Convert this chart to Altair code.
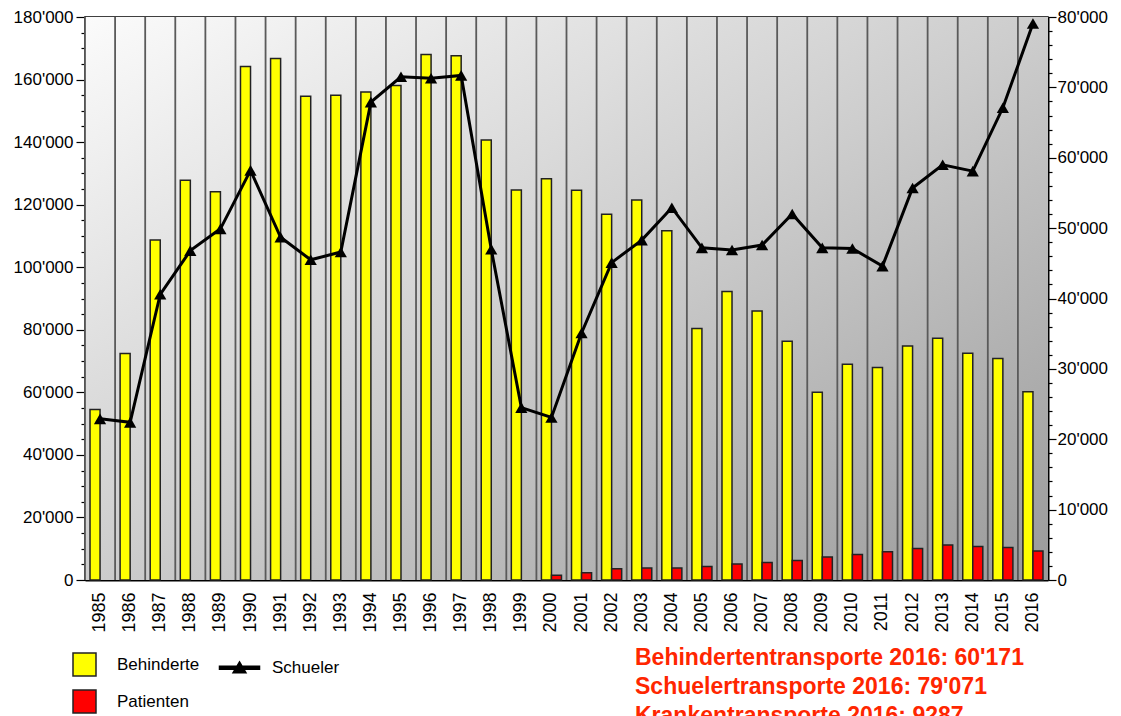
import altair as alt
import pandas as pd

FONT = "Liberation Sans"

years = [str(y) for y in range(1985, 2017)]
behinderte = [54500, 72400, 108700, 127800, 124100, 164200, 166700, 154700, 155000, 156000,
              158100, 168000, 167600, 140700, 124700, 128300, 124600, 116900, 121500, 111700,
              80400, 92200, 86000, 76300, 60000, 69000, 67900, 74800, 77300, 72500, 70800, 60171]
patienten = [0] * 15 + [1500, 2300, 3600, 3800, 3800, 4350, 5100, 5600, 6270, 7330, 8190,
                        9030, 10100, 11160, 10740, 10420, 9287]
schueler = [22900, 22400, 40600, 46800, 49900, 58200, 48700, 45500, 46600, 67900,
            71500, 71300, 71700, 47000, 24500, 23100, 35100, 45100, 48300, 52900,
            47200, 46900, 47600, 52000, 47200, 47100, 44600, 55700, 59000, 58100, 67100, 79071]
series_order = ["Behinderte", "Schueler", "Patienten"]
series_colors = ["#ffff00", "#000000", "#ff0000"]
series_strokes = ["#222222", "#000000", "#222222"]
legend_shapes = ["square",
                 "M-1.74,-0.13H1.74V0.13H-1.74Z M0,-0.5L0.56,0.45H-0.56Z",
                 "square"]
notes = ["Behindertentransporte 2016: 60'171",
         "Schuelertransporte 2016: 79'071",
         "Krankentransporte 2016: 9287"]

df = pd.DataFrame({"year": years, "Behinderte": behinderte,
                   "Patienten": patienten, "Schueler": schueler})
long = df.melt("year", var_name="series", value_name="value")

TOP = 9
W, H = 963, 563

xaxis = alt.Axis(title=None, labelAngle=270, labelFontSize=18, labelFont=FONT,
                 labelColor="black", ticks=False, domain=True, domainColor="black",
                 domainWidth=2, labelPadding=12, grid=False)
xscale = alt.Scale(paddingInner=0, paddingOuter=0)
xenc = alt.X("year:O", axis=xaxis, scale=xscale)

bg = alt.Chart(alt.Data(values=[{}])).mark_rect(
    fill=alt.LinearGradient(
        gradient="linear",
        stops=[alt.GradientStop(color="#fbfbfb", offset=0),
               alt.GradientStop(color="#cdcdcd", offset=0.5),
               alt.GradientStop(color="#9a9a9a", offset=1)],
        x1=0, y1=0, x2=1, y2=1)
).encode(x=alt.value(0), x2=alt.value(W), y=alt.value(0), y2=alt.value(H))

rules = alt.Chart(long).transform_filter(alt.datum.series == "Behinderte").mark_rule(
    color="#5a5a5a", strokeWidth=1.8
).encode(x=alt.X("year:O", axis=xaxis, bandPosition=0, scale=xscale))

left_labels = "datum.value % 20000 === 0 ? replace(format(datum.value, ','), ',', \"'\") : ''"
right_labels = "datum.value % 10000 === 0 ? replace(format(datum.value, ','), ',', \"'\") : ''"

yleft = alt.Axis(title=None, values=list(range(0, 180001, 5000)), labelExpr=left_labels,
                 tickSize={"condition": {"test": "datum.value % 20000 === 0", "value": 9}, "value": 4},
                 tickColor="black", tickWidth=1.2, labelPadding=3, labelFontSize=17,
                 labelFont=FONT, labelColor="black", domainColor="black", domainWidth=2,
                 grid=False, labelOverlap=False)
yright = alt.Axis(title=None, orient="right", values=list(range(0, 80001, 2000)),
                  labelExpr=right_labels,
                  tickSize={"condition": {"test": "datum.value % 10000 === 0", "value": 8}, "value": 4},
                  tickColor="black", tickWidth=1.2, labelPadding=1, labelFontSize=17,
                  labelFont=FONT, labelColor="black", domainColor="black", domainWidth=2,
                  grid=False, labelOverlap=False)

legend = alt.Legend(
    title=None, orient="none", legendX=-13, legendY=635, columns=2, direction="horizontal",
    symbolSize=529, labelFontSize=17, labelFont=FONT, labelColor="black",
    labelOffset=20, columnPadding=16, rowPadding=8, symbolOpacity=1,
    symbolStrokeWidth=1.5,
)
fill_scale = alt.Scale(domain=series_order, range=series_colors)
stroke_scale = alt.Scale(domain=series_order, range=series_strokes)
shape_scale = alt.Scale(domain=series_order, range=legend_shapes)

bars = alt.Chart(long).transform_filter(
    "datum.series !== 'Schueler' && datum.value > 0"
).mark_bar(strokeWidth=1.5, opacity=1).encode(
    x=xenc,
    xOffset=alt.XOffset("series:N", scale=alt.Scale(domain=["Behinderte", "Patienten"],
                                                     paddingInner=0, paddingOuter=0.5)),
    y=alt.Y("value:Q", axis=yleft, scale=alt.Scale(domain=[0, 180000], nice=False)),
    fill=alt.Fill("series:N", scale=fill_scale, legend=legend),
    stroke=alt.Stroke("series:N", scale=stroke_scale, legend=legend),
)

legend_src = alt.Chart(long).mark_point(filled=True, opacity=0, size=1).encode(
    x=xenc,
    fill=alt.Fill("series:N", scale=fill_scale, legend=legend),
    stroke=alt.Stroke("series:N", scale=stroke_scale, legend=legend),
    shape=alt.Shape("series:N", scale=shape_scale, legend=legend),
)

line = alt.Chart(long).transform_filter(alt.datum.series == "Schueler").mark_line(
    color="black", strokeWidth=3,
    point=alt.OverlayMarkDef(shape="triangle-up", size=150, filled=True, color="black", opacity=1)
).encode(
    x=xenc,
    y=alt.Y("value:Q", axis=yright, scale=alt.Scale(domain=[0, 80000], nice=False)),
)

chart = alt.layer(bg, rules, bars, legend_src, line).resolve_scale(y="independent").properties(
    width=W, height=H,
    autosize=alt.AutoSizeParams(type="none"),
    padding={"left": 77, "top": TOP, "right": 65, "bottom": 136},
    title=alt.TitleParams(text=notes, orient="bottom", anchor="start", dx=550, offset=19,
                          dy=-88, fontSize=23, font=FONT, fontWeight="bold", color="#ff2600",
                          lineHeight=29, frame="group"),
).configure_view(stroke="black", strokeWidth=1.5)

chart.save("out.html", embed_options={"renderer": "svg", "actions": False})
